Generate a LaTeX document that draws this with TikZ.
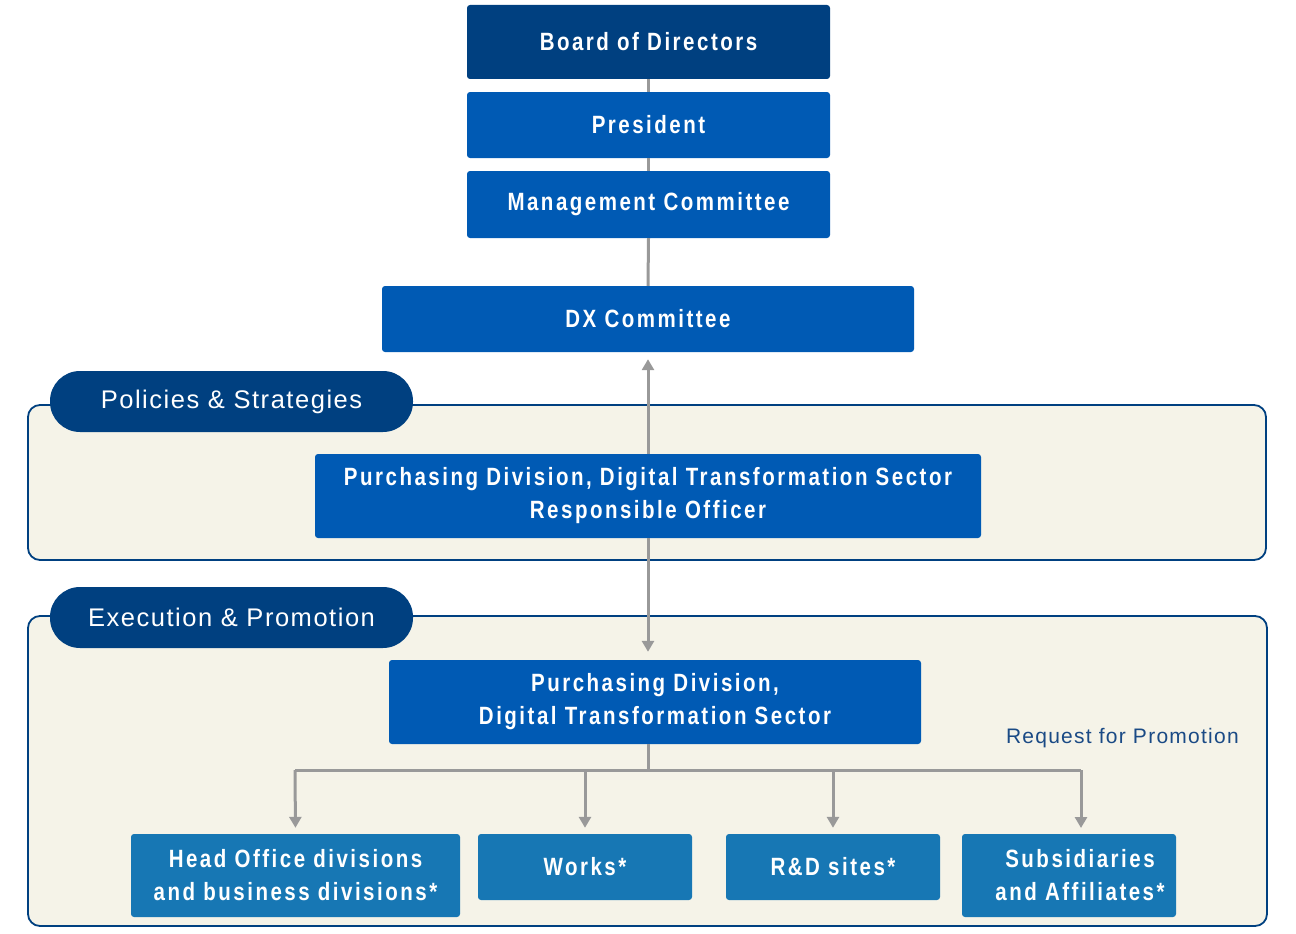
\documentclass[tikz,border=0pt]{standalone}
\usepackage{fontspec}
\setmainfont{Liberation Sans}
\newfontfamily\boxfont[FakeStretch=0.82,LetterSpace=10]{Liberation Sans}
\newfontfamily\pillfont[LetterSpace=6]{Liberation Sans}
\usetikzlibrary{arrows.meta}
\definecolor{navy}{RGB}{0,64,128}
\definecolor{midblue}{RGB}{0,90,180}
\definecolor{lightblue}{RGB}{23,119,180}
\definecolor{panelfill}{RGB}{245,243,232}
\definecolor{conn}{RGB}{153,153,153}
\definecolor{reqtext}{RGB}{26,74,133}
\tikzset{
  box/.style={rectangle, rounded corners=3pt, text=white, inner sep=0pt, align=center,
    font=\boxfont\bfseries\fontsize{25}{33}\selectfont},
  topbox/.style={box, fill=navy},
  midbox/.style={box, fill=midblue},
  lowbox/.style={box, fill=lightblue},
  panel/.style={draw=navy, line width=1.8pt, fill=panelfill, rounded corners=12pt},
  pill/.style={rectangle, rounded corners=30pt, fill=navy, text=white, inner sep=0pt,
    font=\pillfont\fontsize{25.5}{28}\selectfont},
  line/.style={draw=conn, line width=3pt},
  arr/.style={line, -{Triangle[length=11pt,width=12pt]}},
}
\begin{document}
\begin{tikzpicture}[x=1pt,y=-1pt]
\useasboundingbox (0,0) rectangle (1296,934);
% panels
\draw[panel] (28,405) rectangle (1266,560);
\draw[panel] (28,616) rectangle (1267,926);
\node[pill, minimum width=363pt, minimum height=61pt] (pol) at (231.5,401.5) {Policies \& Strategies};
\node[pill, minimum width=363pt, minimum height=61pt] (exe) at (231.5,617.5) {Execution \& Promotion};
% top boxes
\node[topbox, minimum width=363pt, minimum height=74pt] (bod) at (648.5,42) {Board of Directors};
\node[midbox, minimum width=363pt, minimum height=66pt] (pres) at (648.5,125) {President};
\node[midbox, minimum width=363pt, minimum height=67pt] (mc) at (648.5,204.5) {Management Committee};
\node[midbox, minimum width=532pt, minimum height=66pt] (dx) at (648,319) {DX Committee};
\node[midbox, minimum width=666pt, minimum height=84pt] (resp) at (648,496) {Purchasing Division, Digital Transformation Sector\\Responsible Officer};
\node[midbox, minimum width=532pt, minimum height=84pt] (pd) at (655,702) {Purchasing Division,\\Digital Transformation Sector};
\node[font=\pillfont\fontsize{21}{24}\selectfont, text=reqtext, anchor=east, inner sep=0pt] (req) at (1239,738) {Request for Promotion};
% bottom boxes
\node[lowbox, minimum width=329pt, minimum height=83pt] (ho) at (295.5,875.5) {Head Office divisions\\and business divisions*};
\node[lowbox, minimum width=214pt, minimum height=66pt] (wk) at (585,867) {Works*};
\node[lowbox, minimum width=214pt, minimum height=66pt] (rd) at (833,867) {R\&D sites*};
\node[lowbox, minimum width=214pt, minimum height=83pt] (sub) at (1069,875.5) {};
\node[font=\boxfont\bfseries\fontsize{25}{33}\selectfont, text=white, align=center, inner sep=0pt] (subt) at (1080,875.5) {Subsidiaries\\and Affiliates*};
% connectors
\draw[line] (bod.south) -- (pres.north);
\draw[line] (pres.south) -- (mc.north);
\draw[line] (mc.south) -- (dx.north);
\draw[arr, shorten >=7pt] (resp.north) -- (dx.south);
\draw[arr, shorten >=8pt] (resp.south) -- (pd.north -| resp.south);
\coordinate (j) at (648,770);
\coordinate (jl) at (295,770);
\coordinate (jr) at (1081,770);
\coordinate (subtop) at (1081,834);
\draw[line] (pd.south -| j) -- (j);
\draw[line] (jl) -- (jr);
\draw[arr, shorten >=6pt] (jl) -- (ho.north);
\draw[arr, shorten >=6pt] (wk.north |- j) -- (wk.north);
\draw[arr, shorten >=6pt] (rd.north |- j) -- (rd.north);
\draw[arr, shorten >=6pt] (jr) -- (subtop);
\end{tikzpicture}
\end{document}
